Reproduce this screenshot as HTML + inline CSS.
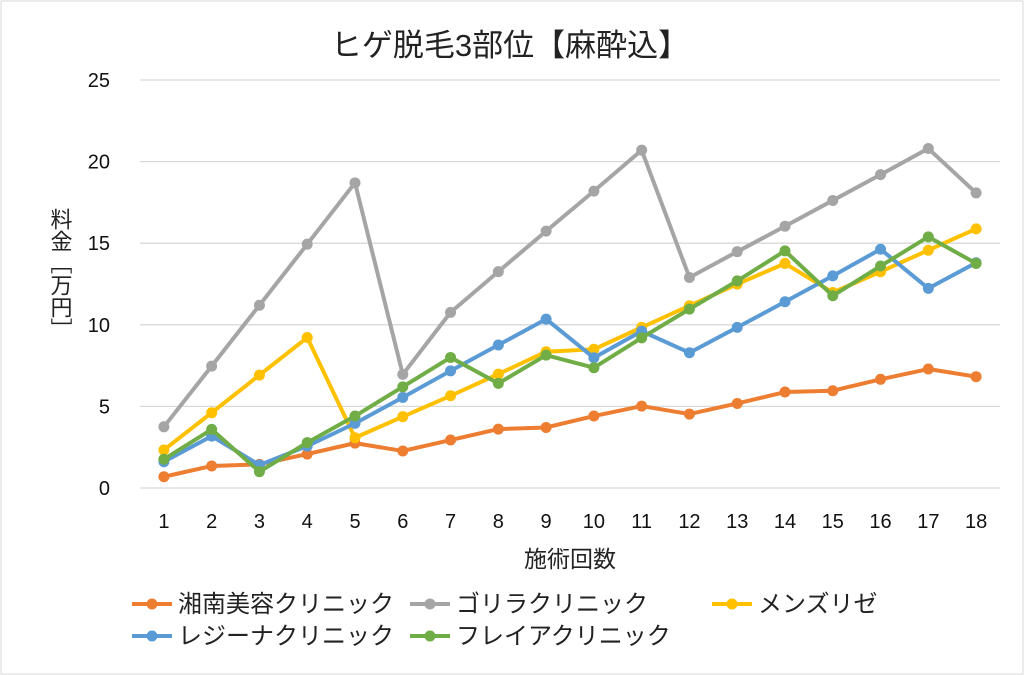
<!DOCTYPE html>
<html><head><meta charset="utf-8"><style>
body{margin:0;background:#fff;}
svg{display:block;font-family:"Liberation Sans","Noto Sans CJK JP",sans-serif;}
</style></head><body>
<svg id="chart" width="1024" height="675">
<rect x="1" y="1" width="1022" height="673" fill="#fff" stroke="#d9d9d9"/>
<text x="510" y="56" text-anchor="middle" font-size="31" fill="#222">ヒゲ脱毛3部位【麻酔込】</text>
<g id="grid"></g><g id="ticks"></g><g id="series"></g>
<text x="570" y="567" text-anchor="middle" font-size="23" fill="#222">施術回数</text>
<text x="60" y="208" font-size="22" fill="#222" style="writing-mode:vertical-rl">料金［万円］</text>
<g id="legend"></g>
</svg>
<script>
const categories=[1,2,3,4,5,6,7,8,9,10,11,12,13,14,15,16,17,18];
const yTicks=[0,5,10,15,20,25];
const seriesNames=["湘南美容クリニック","ゴリラクリニック","メンズリゼ","レジーナクリニック","フレイアクリニック"];
const seriesColors=["#ed7d31","#a5a5a5","#ffc000","#5b9bd5","#70ad47"];
const shonan=[0.69,1.35,1.45,2.08,2.75,2.27,2.94,3.61,3.71,4.41,5.02,4.53,5.18,5.88,5.96,6.66,7.29,6.82];
const gorilla=[3.75,7.47,11.2,14.94,18.7,6.96,10.76,13.26,15.74,18.19,20.7,12.9,14.48,16.04,17.62,19.2,20.8,18.08];
const rize=[2.33,4.61,6.92,9.22,3.08,4.37,5.65,6.98,8.35,8.5,9.84,11.17,12.49,13.76,11.98,13.25,14.57,15.88];
const regina=[1.61,3.18,1.41,2.57,3.96,5.55,7.18,8.76,10.35,7.98,9.61,8.29,9.84,11.41,13.0,14.63,12.23,13.8];
const freya=[1.76,3.59,1.0,2.78,4.41,6.2,8.0,6.41,8.14,7.37,9.2,10.96,12.69,14.53,11.78,13.6,15.39,13.76];
const allSeries=[shonan,gorilla,rize,regina,freya];
const NS="http://www.w3.org/2000/svg";
const x0=140,x1=1000,yZero=488,yTop=80,yMax=25;
function xs(i){return x0+(x1-x0)/categories.length*(i+0.5);}
function ys(v){return yZero-(yZero-yTop)*v/yMax;}
function mk(tag,attrs,parent){const e=document.createElementNS(NS,tag);for(const k in attrs)e.setAttribute(k,attrs[k]);parent.appendChild(e);return e;}
const grid=document.getElementById('grid'),ticks=document.getElementById('ticks'),ser=document.getElementById('series'),leg=document.getElementById('legend');
yTicks.forEach(t=>{
 const l=mk('line',{x1:x0,x2:x1,y1:ys(t),y2:ys(t),stroke:'#d9d9d9','stroke-width':1.3},grid);
 
 
 const tx=mk('text',{x:110,y:ys(t)+7,'text-anchor':'end','font-size':20,fill:'#111'},ticks);
 tx.textContent=t;
 
 
});
categories.forEach((c,i)=>{
 const tx=mk('text',{x:xs(i),y:528,'text-anchor':'middle','font-size':20,fill:'#111'},ticks);
 tx.textContent=c;
 
 
});
allSeries.forEach((d,s)=>{
 const g=mk('g',{},ser);
 
 
 const pl=mk('polyline',{points:d.map((v,i)=>xs(i)+','+ys(v)).join(' '),fill:'none',stroke:seriesColors[s],'stroke-width':4,'stroke-linejoin':'round'},g);
 
 
 d.forEach((v,i)=>{
  const c=mk('circle',{cx:xs(i),cy:ys(v),r:5.5,fill:seriesColors[s]},g);
  
  
 });
});
const legPos=[[132,604],[410,604],[712,604],[132,636],[410,636]];
seriesNames.forEach((n,s)=>{
 const [lx,ly]=legPos[s];
 const g=mk('g',{},leg);
 
 
 mk('line',{x1:lx,x2:lx+40,y1:ly,y2:ly,stroke:seriesColors[s],'stroke-width':4},g);
 mk('circle',{cx:lx+20,cy:ly,r:5.5,fill:seriesColors[s]},g);
 const t=mk('text',{x:lx+46,y:ly+8,'font-size':24,fill:'#222'},g);
 t.textContent=n;
});
</script>
</body></html>
